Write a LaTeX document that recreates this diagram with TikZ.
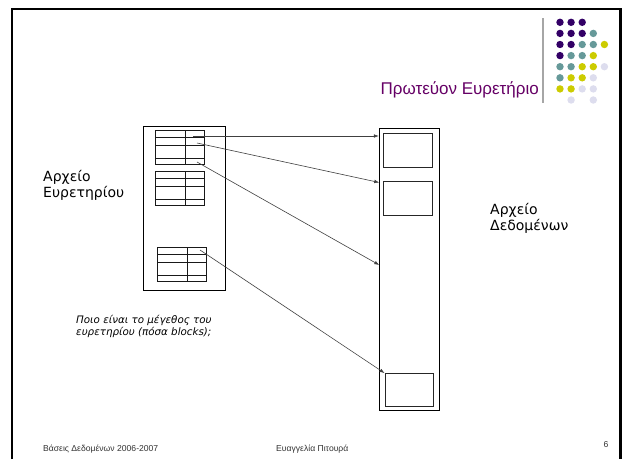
\documentclass[tikz,border=0pt]{standalone}
\usepackage{fontspec}
\setmainfont{Liberation Sans}
\newfontfamily\comicfont{DejaVu Sans}
\usetikzlibrary{arrows.meta}
\definecolor{dotP}{HTML}{330066}
\definecolor{dotT}{HTML}{669999}
\definecolor{dotY}{HTML}{CCCC00}
\definecolor{dotL}{HTML}{DDDDEE}
\definecolor{titlepurple}{HTML}{660066}
\begin{document}
\begin{tikzpicture}[x=1pt,y=-1pt,
  filebox/.style={draw=black, line width=0.9pt, inner sep=0, minimum width=#1},
  blockbox/.style={draw=black!85, line width=0.8pt, inner sep=0, minimum width=49, minimum height=34},
  tabline/.style={draw=black!90, line width=0.8pt},
  conn/.style={draw=black!75, line width=0.6pt, -{Latex[length=5pt,width=3.6pt]}},
  lbl/.style={font=\comicfont\fontsize{14}{16.5}\selectfont, align=left, inner sep=0, anchor=north west},
  qtext/.style={font=\comicfont\itshape\fontsize{10.3}{12.2}\selectfont, align=left, inner sep=0, anchor=north west},
  footer/.style={font=\fontsize{8.6}{10}\selectfont, text=black!80, inner sep=0, anchor=base west},
  idxtable/.pic={
    \draw[tabline] (0,0) rectangle (49,34);
    \draw[tabline] (0,7) -- (49,7) (0,14.5) -- (49,14.5) (0,27.5) -- (49,27.5) (30,0) -- (30,34);
  }]
\useasboundingbox (0,0) rectangle (625,459);
\fill[white] (0,0) rectangle (625,459);
% slide frame
\draw[line width=2.4pt] (12,459) -- (12,9) -- (620.5,9) -- (620.5,459);
% decorative dots
\foreach \c/\r/\col in {0/0/dotP,1/0/dotP,2/0/dotP,
  0/1/dotP,1/1/dotP,2/1/dotP,3/1/dotT,
  0/2/dotP,1/2/dotP,2/2/dotT,3/2/dotT,4/2/dotY,
  0/3/dotP,1/3/dotT,2/3/dotT,3/3/dotY,
  0/4/dotT,1/4/dotT,2/4/dotY,3/4/dotY,4/4/dotL,
  0/5/dotT,1/5/dotY,2/5/dotY,3/5/dotL,
  0/6/dotY,1/6/dotY,2/6/dotL,3/6/dotL,
  1/7/dotL,3/7/dotL}
  \fill[\col] ({560+11.1*\c},{22.3+11.1*\r}) circle[radius=3.7pt];
\draw[gray!70, line width=2pt] (543,18) -- (543,103);
% title
\node[anchor=base east, font=\fontsize{17}{20}\selectfont, text=titlepurple, inner sep=0] (title) at (539,94) {Πρωτεύον Ευρετήριο};
% index file
\node[filebox=82.5, minimum height=163.5] (idxfile) at (184.5,208.4) {};
\pic (tabA) at (155,130.7) {idxtable};
\pic (tabB) at (155.5,171.7) {idxtable};
\pic (tabC) at (157.5,247.5) {idxtable};
% data file
\node[filebox=60.2, minimum height=281.7] (datfile) at (409.4,269.2) {};
\node[blockbox] (blk1) at (408,150.5) {};
\node[blockbox] (blk2) at (408,198) {};
\node[blockbox, minimum width=48.5, minimum height=33] (blk3) at (409.25,390) {};
% pointers
\coordinate (s1) at (193,136);
\coordinate (s2) at (197,143);
\coordinate (s3) at (197,162);
\coordinate (s4) at (200,250);
\coordinate (e1) at (datfile.west |- s1);
\coordinate (e2) at (379.3,182.5);
\coordinate (e3) at (379.3,265);
\draw[conn] (s1) -- (e1);
\draw[conn] (s2) -- (e2);
\draw[conn] (s3) -- (e3);
\draw[conn] (s4) -- (blk3.north west);
% labels
\node[lbl] (lblIdx) at (43,170) {Αρχείο\\Ευρετηρίου};
\node[lbl] (lblDat) at (490,203) {Αρχείο\\Δεδομένων};
\node[qtext] (question) at (76,315) {Ποιο είναι το μέγεθος του\\ευρετηρίου (πόσα blocks);};
% footer
\node[footer] (foot1) at (43,451) {Βάσεις Δεδομένων 2006-2007};
\node[footer] (foot2) at (276,451) {Ευαγγελία Πιτουρά};
\node[footer, anchor=base] (foot3) at (606,447) {6};
\end{tikzpicture}
\end{document}
